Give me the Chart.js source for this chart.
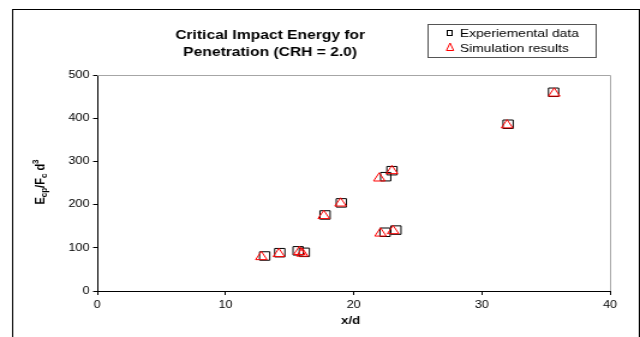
<!DOCTYPE html>
<html>
<head>
<meta charset="utf-8">
<script src="https://cdn.jsdelivr.net/npm/chart.js@4.4.0/dist/chart.umd.min.js"></script>
<style>
html,body{margin:0;padding:0;background:#fff;overflow:hidden;}
#wrap{width:640px;height:337px;position:relative;}
</style>
</head>
<body>
<div id="wrap"><canvas id="c" width="533" height="337" style="width:640px;height:337px;display:block;"></canvas></div>
<script>
// Data
const expX = [13.06, 14.24, 15.67, 16.15, 17.77, 19.04, 22.5, 22.99, 22.45, 23.3, 32.05, 35.6];
const expY = [81, 88.7, 93, 89.5, 176, 204, 264.6, 278.5, 136, 141, 386, 460];
const simX = [12.8, 14.17, 15.77, 15.99, 17.67, 18.98, 22.0, 22.99, 22.1, 23.08, 31.97, 35.65];
const simY = [79, 86, 91, 87, 174, 203, 261, 278, 133.5, 139, 384, 457.5];
const xTicks = [0, 10, 20, 30, 40];
const yTicks = [0, 100, 200, 300, 400, 500];
const seriesNames = ['Experiemental data', 'Simulation results'];
const titleLines = ['Critical Impact Energy for', 'Penetration (CRH = 2.0)'];
const xTitle = 'x/d';

const FONT = 'Arial, "Liberation Sans", Helvetica, sans-serif';

const decor = {
  id: 'decor',
  beforeDatasetsDraw(chart) {
    const {ctx, chartArea: a} = chart;
    ctx.save();
    ctx.strokeStyle = '#a6a6a6';
    ctx.lineWidth = 1;
    ctx.beginPath();
    ctx.moveTo(a.left, Math.round(a.top) + 0.5);
    ctx.lineTo(Math.round(a.right) + 0.5, Math.round(a.top) + 0.5);
    ctx.lineTo(Math.round(a.right) + 0.5, a.bottom);
    ctx.stroke();
    ctx.restore();
  },
  afterDraw(chart) {
    const {ctx} = chart;
    ctx.save();
    // outer frame
    ctx.strokeStyle = '#000';
    ctx.lineWidth = 1;
    ctx.strokeRect(10.5, 9.5, 522, 360);
    // title
    ctx.fillStyle = '#000';
    ctx.font = 'bold 13px ' + FONT;
    ctx.textAlign = 'center';
    ctx.textBaseline = 'middle';
    ctx.fillText(titleLines[0], 225, 35);
    ctx.fillText(titleLines[1], 225, 52);
    // x axis title
    ctx.font = 'bold 11px ' + FONT;
    ctx.fillText(xTitle, 292, 321);
    // y axis title with sub/superscripts
    ctx.save();
    ctx.translate(34, 182);
    ctx.rotate(-Math.PI / 2);
    const parts = [
      {t: 'E', s: 11, dy: 0},
      {t: 'cp', s: 8, dy: 3},
      {t: '/F', s: 11, dy: 0},
      {t: 'c', s: 8, dy: 3},
      {t: ' d', s: 11, dy: 0},
      {t: '3', s: 8, dy: -4}
    ];
    let total = 0;
    parts.forEach(p => { ctx.font = 'bold ' + p.s + 'px ' + FONT; p.w = ctx.measureText(p.t).width; total += p.w; });
    let x = -total / 2;
    ctx.textAlign = 'left';
    parts.forEach(p => { ctx.font = 'bold ' + p.s + 'px ' + FONT; ctx.fillText(p.t, x, p.dy); x += p.w; });
    ctx.restore();
    // legend
    ctx.strokeStyle = '#555';
    ctx.strokeRect(356.5, 24.5, 140, 33);
    ctx.font = '11.5px ' + FONT;
    ctx.textAlign = 'left';
    ctx.fillStyle = '#000';
    ctx.fillText(seriesNames[0], 383, 33.5);
    ctx.fillText(seriesNames[1], 383, 48.5);
    ctx.strokeStyle = '#000';
    ctx.strokeRect(372.5, 30.5, 4, 5);
    ctx.strokeStyle = '#ff0000';
    ctx.beginPath();
    ctx.moveTo(374.8, 43);
    ctx.lineTo(377.8, 50.5);
    ctx.lineTo(371.8, 50.5);
    ctx.closePath();
    ctx.stroke();
    ctx.restore();
  }
};

new Chart(document.getElementById('c'), {
  type: 'scatter',
  data: {
    datasets: [
      {
        label: seriesNames[0],
        data: expX.map((x, i) => ({x: x, y: expY[i]})),
        pointStyle: 'rect',
        pointRadius: 6,
        pointHoverRadius: 6,
        borderColor: '#000',
        backgroundColor: 'rgba(0,0,0,0)',
        borderWidth: 1,
        order: 1
      },
      {
        label: seriesNames[1],
        data: simX.map((x, i) => ({x: x, y: simY[i]})),
        pointStyle: 'triangle',
        pointRadius: 5.5,
        pointHoverRadius: 5.5,
        borderColor: '#ff0000',
        backgroundColor: 'rgba(0,0,0,0)',
        borderWidth: 1,
        order: 0
      }
    ]
  },
  options: {
    responsive: false,
    animation: false,
    devicePixelRatio: 1,
    layout: {padding: {left: 0, right: 25, top: 75, bottom: 0}},
    plugins: {legend: {display: false}, tooltip: {enabled: false}, title: {display: false}},
    scales: {
      x: {
        type: 'linear',
        min: 0, max: 40,
        afterBuildTicks(s) { s.ticks = xTicks.map(v => ({value: v})); },
        afterFit(s) { s.height = 46; },
        grid: {drawOnChartArea: false, drawTicks: true, tickLength: 4, color: '#000'},
        border: {color: '#000', width: 1},
        ticks: {color: '#000', font: {size: 10.5, family: FONT}, padding: 4, maxRotation: 0}
      },
      y: {
        type: 'linear',
        min: 0, max: 500,
        afterBuildTicks(s) { s.ticks = yTicks.map(v => ({value: v})); },
        afterFit(s) { s.width = 81; },
        grid: {drawOnChartArea: false, drawTicks: true, tickLength: 3.5, color: '#000'},
        border: {color: '#000', width: 1},
        ticks: {color: '#000', font: {size: 10.5, family: FONT}, padding: 3}
      }
    }
  },
  plugins: [decor]
});
</script>
</body>
</html>
